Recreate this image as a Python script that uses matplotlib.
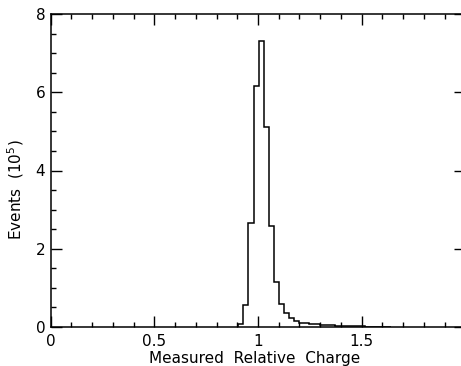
import numpy as np
import matplotlib
matplotlib.use("Agg")
import matplotlib.pyplot as plt
from matplotlib.ticker import MultipleLocator

# histogram of measured relative charge, counts in units of 10^5
bin_start = 0.905
bin_width = 0.0245
counts = [0.08, 0.57, 2.66, 6.15, 7.31, 5.10, 2.57, 1.15, 0.58, 0.36, 0.22,
          0.15, 0.11, 0.09, 0.075, 0.065, 0.055, 0.045, 0.04, 0.035, 0.03,
          0.025, 0.02, 0.017, 0.014, 0.012, 0.01, 0.008, 0.006, 0.005]
edges = bin_start + bin_width * np.arange(len(counts) + 1)

plt.rcParams['font.family'] = 'DejaVu Sans'

fig = plt.figure(figsize=(4.61, 3.66), dpi=100)
# axes run a little past the right edge of the picture, as in the scan
ax = fig.add_axes([50.7 / 461, 39 / 366, 414.6 / 461, 313 / 366])

ax.stairs(counts, edges, color='black', linewidth=1.1)

ax.set_xlim(0, 2)
ax.set_ylim(0, 8)
ax.xaxis.set_major_locator(MultipleLocator(0.5))
ax.xaxis.set_minor_locator(MultipleLocator(0.1))
ax.yaxis.set_major_locator(MultipleLocator(2))
ax.yaxis.set_minor_locator(MultipleLocator(0.5))
ax.set_xticks([0, 0.5, 1, 1.5])
ax.set_xticklabels(['0', '0.5', '1', '1.5'])

ax.tick_params(which='both', direction='in', top=True, right=True,
               width=1.0, labelsize=11)
ax.tick_params(which='major', length=8)
ax.tick_params(which='minor', length=3.5, right=False)
ax.tick_params(axis='x', pad=5)
ax.tick_params(axis='y', pad=4)
for s in ax.spines.values():
    s.set_linewidth(1.1)

ax.set_xlabel('Measured  Relative  Charge', fontsize=11)
ax.set_ylabel('Events  (10$^5$)', fontsize=11)
ax.xaxis.set_label_coords(0.493, -0.078)
ax.yaxis.set_label_coords(-0.06, 0.44)

fig.savefig('out.png', dpi=100)
